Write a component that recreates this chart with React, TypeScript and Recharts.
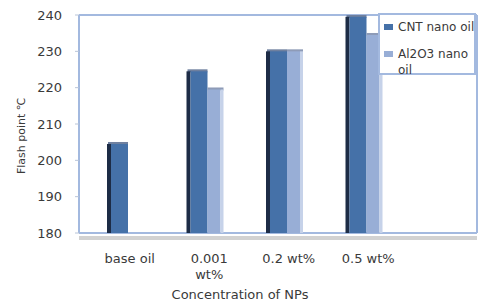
import { BarChart, Bar, XAxis, YAxis, CartesianGrid, Text } from "recharts";

const categories = ["base oil", "0.001 wt%", "0.2 wt%", "0.5 wt%"];
const cntValues = [204.5, 224.5, 230, 239.5];
const al2o3Values = [null, 219.5, 230, 234.5];
const yTicks = [180, 190, 200, 210, 220, 230, 240];
const seriesNames = ["CNT nano oil", "Al2O3 nano oil"];
const seriesColors = ["#4571a8", "#98aed6"];

const data = categories.map((name, i) => ({
  name,
  cnt: cntValues[i],
  al2o3: al2o3Values[i],
}));

const frame = "#a3b9df";
const font = "DejaVu Sans, sans-serif";

function CntBar(props: any) {
  const { x, y, width, height } = props;
  if (!height || height <= 0) return <g />;
  return (
    <g>
      <rect x={x + 1} y={y - 2} width={width + 2} height={3} fill="#6f809f" />
      <rect x={x} y={y} width={4} height={height + 4} fill="#1d2c46" />
      <rect x={x + 4} y={y} width={width - 1} height={height + 4} fill={seriesColors[0]} />
    </g>
  );
}

function AlBar(props: any) {
  const { x, y, width, height } = props;
  if (!height || height <= 0) return <g />;
  return (
    <g>
      <rect x={x + 3} y={y - 2} width={width - 2} height={3} fill="#8e9bb7" />
      <rect x={x + 3} y={y} width={width - 5} height={height + 4} fill={seriesColors[1]} />
      <rect x={x + width - 2} y={y} width={3} height={height + 4} fill="#c6d2e9" />
    </g>
  );
}

function CategoryTick(props: any) {
  const { x, y, payload } = props;
  return (
    <Text
      x={x + 5}
      y={y + 13}
      width={68}
      lineHeight={16}
      textAnchor="middle"
      verticalAnchor="start"
      fontFamily={font}
      fontSize={13}
      fill="#3a3a3a"
    >
      {payload.value}
    </Text>
  );
}

function XTitle(props: any) {
  const { viewBox } = props;
  return (
    <text
      x={viewBox.x + 161}
      y={viewBox.y + viewBox.height - 5}
      textAnchor="middle"
      fontFamily={font}
      fontSize={13}
      fill="#3a3a3a"
    >
      Concentration of NPs
    </text>
  );
}

function YTitle(props: any) {
  const { viewBox } = props;
  const cx = viewBox.x + 21;
  const cy = viewBox.y + viewBox.height / 2 + 12;
  return (
    <text
      x={cx}
      y={cy}
      transform={`rotate(-90 ${cx} ${cy})`}
      textAnchor="middle"
      dominantBaseline="central"
      fontFamily={font}
      fontSize={11}
      fill="#3a3a3a"
    >
      Flash point ℃
    </text>
  );
}

export default function App() {
  return (
    <div style={{ position: "absolute", left: 0, top: 0, width: 486, height: 304, background: "#fff", overflow: "hidden" }}>
      <BarChart
        width={486}
        height={304}
        data={data}
        margin={{ top: 15, right: 9, bottom: 0, left: 0 }}
        barGap={0}
        barSize={18}
      >
        <CartesianGrid
          stroke={frame}
          strokeWidth={2}
          horizontalCoordinatesGenerator={({ offset }: any) => [offset.top, offset.top + offset.height]}
          verticalCoordinatesGenerator={({ offset }: any) => [offset.left, offset.left + offset.width]}
        />
        <XAxis
          dataKey="name"
          height={71}
          padding={{ left: 6, right: 74 }}
          tickLine={false}
          axisLine={{ stroke: "#d2d2d2", strokeWidth: 4, transform: "translate(0,5)" }}
          tick={<CategoryTick />}
          interval={0}
          label={<XTitle />}
        />
        <YAxis
          width={79}
          domain={[180, 240]}
          ticks={yTicks}
          allowDataOverflow
          tickSize={4}
          tickMargin={13}
          axisLine={{ stroke: frame, strokeWidth: 2 }}
          tickLine={{ stroke: "#b8c4d8" }}
          tick={{ fontFamily: font, fontSize: 13, fill: "#3a3a3a" }}
          label={<YTitle />}
        />
        <Bar dataKey="cnt" name={seriesNames[0]} fill={seriesColors[0]} shape={<CntBar />} isAnimationActive={false} />
        <Bar dataKey="al2o3" name={seriesNames[1]} fill={seriesColors[1]} shape={<AlBar />} isAnimationActive={false} />
      </BarChart>
      <div
        style={{
          position: "absolute",
          left: 378,
          top: 13,
          width: 98,
          height: 62,
          border: `2px solid ${frame}`,
          background: "#fff",
          fontFamily: font,
          fontSize: 12,
          color: "#3a3a3a",
          boxSizing: "border-box",
          padding: "4px 0 0 4px",
        }}
      >
        {seriesNames.map((n, i) => (
          <div key={n} style={{ display: "flex", alignItems: "flex-start", marginBottom: 11, lineHeight: "16px" }}>
            <span
              style={{
                display: "inline-block",
                width: 9,
                height: 6,
                marginTop: 5,
                marginRight: 5,
                flexShrink: 0,
                background: seriesColors[i],
              }}
            />
            <span style={{ width: 86, flexShrink: 0 }}>{n}</span>
          </div>
        ))}
      </div>
    </div>
  );
}
